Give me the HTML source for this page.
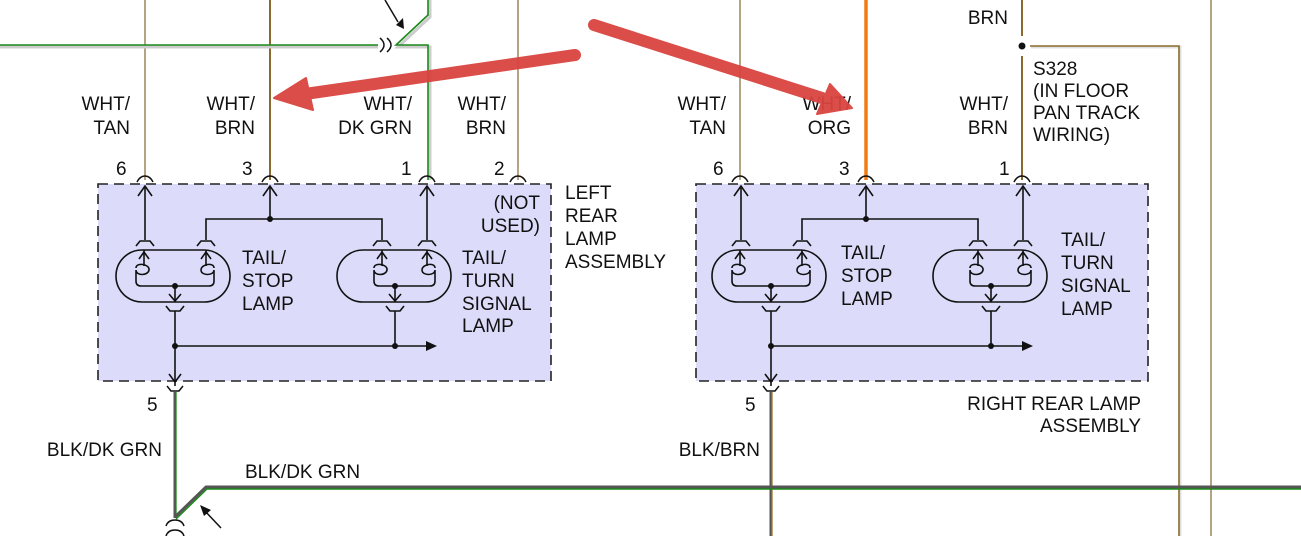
<!DOCTYPE html>
<html><head><meta charset="utf-8"><style>
html,body{margin:0;padding:0;background:#fff;}
svg{display:block;}
text{font-family:"Liberation Sans",Arial,sans-serif;font-size:19px;fill:#111;}
</style></head><body>
<svg width="1301" height="553" viewBox="0 0 1301 553" xmlns="http://www.w3.org/2000/svg">
<defs>
<g id="lampbox">
  <g fill="none" stroke="#111" stroke-width="1.6">
    <line x1="145" y1="186" x2="145" y2="240"/>
    <polyline points="138,196 145,186 152,196"/>
    <line x1="427" y1="186" x2="427" y2="240"/>
    <polyline points="420,196 427,186 434,196"/>
    <line x1="270" y1="186" x2="270" y2="219"/>
    <polyline points="263,196 270,186 277,196"/>
    <polyline points="206,240 206,219 382,219 382,240"/>
    <path d="M136,246 L140,241 L150,241 L154,246"/>
    <path d="M197,246 L201,241 L211,241 L215,246"/>
    <path d="M373,246 L377,241 L387,241 L391,246"/>
    <path d="M418,246 L422,241 L432,241 L436,246"/>
    <rect x="116" y="250" width="114" height="52" rx="26" ry="26"/>
    <polyline points="139,259 144,252 149,259"/>
    <polyline points="201,259 206,252 211,259"/>
    <path d="M144,250 L144,266 M136,268 C136,262 150,264 149,270 C148,276 136,276 136,270 L136,281 Q136,286 141,286 L209,286 Q214,286 214,281 L214,270 C214,276 201,276 201,270 C201,264 214,262 214,268 M206,250 L206,266"/>
    <line x1="175" y1="286" x2="175" y2="302"/>
    <polyline points="169,294 175,301 181,294"/>
    <path d="M166,306 L170,311 L180,311 L184,306"/>
    <line x1="175" y1="311" x2="175" y2="386"/>
    <rect x="337" y="250" width="114" height="52" rx="26" ry="26"/>
    <polyline points="377,259 382,252 387,259"/>
    <polyline points="422,259 427,252 432,259"/>
    <path d="M382,250 L382,266 M374,268 C374,262 388,264 387,270 C386,276 374,276 374,270 L374,281 Q374,286 379,286 L430,286 Q435,286 435,281 L435,270 C435,276 422,276 422,270 C422,264 435,262 435,268 M427,250 L427,266"/>
    <line x1="395" y1="286" x2="395" y2="302"/>
    <polyline points="389,294 395,301 401,294"/>
    <path d="M386,306 L390,311 L400,311 L404,306"/>
    <line x1="395" y1="311" x2="395" y2="346"/>
    <line x1="175" y1="346" x2="428" y2="346"/>
    <polyline points="169,374 175,382 181,374"/>
  </g>
  <polygon points="426,341 437,346 426,351" fill="#111"/>
  <circle cx="270" cy="219" r="3" fill="#111"/>
  <circle cx="175" cy="286" r="3" fill="#111"/>
  <circle cx="395" cy="286" r="3" fill="#111"/>
  <circle cx="175" cy="346" r="3" fill="#111"/>
  <circle cx="395" cy="346" r="3" fill="#111"/>
</g>
</defs>

<rect x="98" y="184" width="453" height="197" fill="#dcdcfa" stroke="#222" stroke-width="1.6" stroke-dasharray="10,6"/>
<rect x="696" y="184" width="452" height="197" fill="#dcdcfa" stroke="#222" stroke-width="1.6" stroke-dasharray="10,6"/>

<line x1="145" y1="0" x2="145" y2="180" stroke="#b4a482" stroke-width="2"/>
<line x1="270" y1="0" x2="270" y2="180" stroke="#8a6a2e" stroke-width="2"/>
<line x1="518" y1="0" x2="518" y2="180" stroke="#b4a482" stroke-width="2"/>
<polyline points="0,47 378,47" fill="none" stroke="#ccc" stroke-width="3"/>
<polyline points="0,45 378,45" fill="none" stroke="#1a8a1a" stroke-width="1.6"/>
<polyline points="430,0 430,17 398,47 430,47 430,180" fill="none" stroke="#ccc" stroke-width="3"/>
<polyline points="428,0 428,15 396,45 428,45 428,180" fill="none" stroke="#1a8a1a" stroke-width="1.6"/>
<path d="M380,38 Q388,45 380,52 M387,38 Q395,45 387,52" fill="none" stroke="#111" stroke-width="1.5"/>
<line x1="385" y1="0" x2="398" y2="22" stroke="#111" stroke-width="1.5"/>
<polygon points="396,25 404,29 403,18" fill="#111"/>

<line x1="740" y1="0" x2="740" y2="180" stroke="#b4a482" stroke-width="2"/>
<line x1="866" y1="0" x2="866" y2="180" stroke="#f07d14" stroke-width="3.5"/>
<line x1="1022" y1="0" x2="1022" y2="36" stroke="#8a6a2e" stroke-width="2"/>
<line x1="1022" y1="56" x2="1022" y2="180" stroke="#8a6a2e" stroke-width="2"/>
<polyline points="1031,47 1180,47 1180,536" fill="none" stroke="#e0e0e0" stroke-width="3"/>
<polyline points="1030,46 1179,46 1179,536" fill="none" stroke="#8a6a2e" stroke-width="1.6"/>
<line x1="1211" y1="0" x2="1211" y2="536" stroke="#b4a482" stroke-width="2"/>
<circle cx="1022" cy="46" r="3.5" fill="#111"/>

<g fill="none" stroke="#111" stroke-width="1.5">
<path d="M137,182 Q140,176 145,176 Q150,176 153,182"/>
<path d="M262,182 Q265,176 270,176 Q275,176 278,182"/>
<path d="M419,182 Q422,176 427,176 Q432,176 435,182"/>
<path d="M510,182 Q513,176 518,176 Q523,176 526,182"/>
<path d="M732,182 Q735,176 740,176 Q745,176 748,182"/>
<path d="M858,182 Q861,176 866,176 Q871,176 874,182"/>
<path d="M1014,182 Q1017,176 1022,176 Q1027,176 1030,182"/>
<path d="M167,386 L171,391 L179,391 L183,386"/>
<path d="M763,386 L767,391 L775,391 L779,386"/>
</g>

<use href="#lampbox"/>
<use href="#lampbox" transform="translate(596,0)"/>

<line x1="175" y1="392" x2="175" y2="518" stroke="#555" stroke-width="3"/>
<line x1="176" y1="392" x2="176" y2="518" stroke="#1a8a1a" stroke-width="1.3"/>
<line x1="771" y1="392" x2="771" y2="536" stroke="#555" stroke-width="3"/>
<line x1="772" y1="392" x2="772" y2="536" stroke="#a07a30" stroke-width="1.3"/>
<polyline points="175,517 206,487 1301,487" fill="none" stroke="#555" stroke-width="3"/>
<polyline points="176,519 207,489 1301,489" fill="none" stroke="#1a8a1a" stroke-width="1.4"/>
<path d="M166,526 Q168,520 175,520 Q182,520 184,526 M166,536 Q168,530 175,530 Q182,530 184,536" fill="none" stroke="#111" stroke-width="1.5"/>
<line x1="221" y1="528" x2="204" y2="510" stroke="#111" stroke-width="1.5"/>
<polygon points="200,505 211,510 204,516" fill="#111"/>
<rect x="0" y="536" width="1301" height="17" fill="#fff"/>

<g text-anchor="end">
<text x="130" y="110">WHT/</text><text x="130" y="134">TAN</text>
<text x="255" y="110">WHT/</text><text x="255" y="134">BRN</text>
<text x="412" y="110">WHT/</text><text x="412" y="134">DK GRN</text>
<text x="506" y="110">WHT/</text><text x="506" y="134">BRN</text>
<text x="726" y="110">WHT/</text><text x="726" y="134">TAN</text>
<text x="851" y="110">WHT/</text><text x="851" y="134">ORG</text>
<text x="1008" y="110">WHT/</text><text x="1008" y="134">BRN</text>
<text x="1008" y="24">BRN</text>
<text x="540" y="209">(NOT</text><text x="540" y="232">USED)</text>
<text x="162" y="456">BLK/DK GRN</text>
<text x="760" y="456">BLK/BRN</text>
<text x="1141" y="410">RIGHT REAR LAMP</text>
<text x="1141" y="432">ASSEMBLY</text>
</g>

<g stroke="#d9443f" stroke-linecap="round" fill="#d9443f" opacity="0.95">
<line x1="575" y1="55" x2="305" y2="94" stroke-width="12"/>
<polygon points="274,98 306,78 313,110" stroke-width="2" stroke-linejoin="round"/>
<line x1="594" y1="25" x2="822" y2="98" stroke-width="12"/>
<polygon points="852,108 817,114 830,84" stroke-width="2" stroke-linejoin="round"/>
</g>

<text x="116" y="175">6</text><text x="242" y="175">3</text><text x="401" y="175">1</text><text x="494" y="175">2</text>
<text x="713" y="175">6</text><text x="839" y="175">3</text><text x="999" y="175">1</text>
<text x="147" y="411">5</text><text x="745" y="411">5</text>
<text x="1033" y="75">S328</text><text x="1033" y="97">(IN FLOOR</text><text x="1033" y="119">PAN TRACK</text><text x="1033" y="141">WIRING)</text>
<text x="565" y="199">LEFT</text><text x="565" y="222">REAR</text><text x="565" y="245">LAMP</text><text x="565" y="268">ASSEMBLY</text>
<text x="242" y="264">TAIL/</text><text x="242" y="287">STOP</text><text x="242" y="310">LAMP</text>
<text x="462" y="264">TAIL/</text><text x="462" y="287">TURN</text><text x="462" y="310">SIGNAL</text><text x="462" y="332">LAMP</text>
<text x="841" y="259">TAIL/</text><text x="841" y="282">STOP</text><text x="841" y="305">LAMP</text>
<text x="1061" y="246">TAIL/</text><text x="1061" y="269">TURN</text><text x="1061" y="292">SIGNAL</text><text x="1061" y="315">LAMP</text>
<text x="245" y="478">BLK/DK GRN</text>
</svg>
</body></html>
